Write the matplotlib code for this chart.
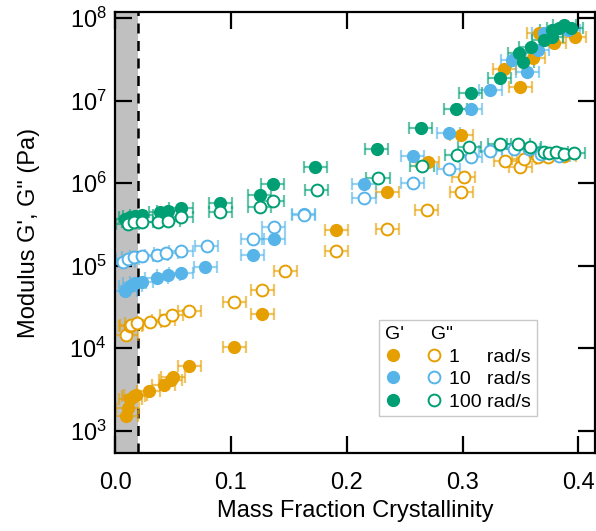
import matplotlib
matplotlib.use("Agg")
import matplotlib.pyplot as plt
from matplotlib.lines import Line2D

plt.rcParams['font.family'] = ['Liberation Sans', 'DejaVu Sans']
plt.rcParams['mathtext.fontset'] = 'custom'
plt.rcParams['mathtext.rm'] = 'Liberation Sans'

# G' and G'' at 1, 10, 100 rad/s vs mass fraction crystallinity
x_g1_s = [0.0096, 0.011, 0.013, 0.016, 0.018, 0.029, 0.042, 0.048, 0.050, 0.064,
          0.103, 0.127, 0.191, 0.235, 0.270, 0.299, 0.336, 0.350, 0.361, 0.366, 0.379, 0.397]
y_g1_s = [1.5e3, 1.9e3, 2.4e3, 2.6e3, 2.7e3, 3.0e3, 3.6e3, 4.1e3, 4.5e3, 6.1e3,
          1.03e4, 2.6e4, 2.7e5, 7.8e5, 1.8e6, 3.8e6, 2.4e7, 1.45e7, 3.3e7, 6.6e7, 5.0e7, 5.9e7]

x_g1_l = [0.0096, 0.013, 0.014, 0.019, 0.030, 0.042, 0.049, 0.064, 0.103, 0.127, 0.147,
          0.191, 0.235, 0.269, 0.299, 0.301, 0.337, 0.350, 0.353, 0.365, 0.374, 0.388]
y_g1_l = [1.44e4, 1.84e4, 1.9e4, 2.0e4, 2.06e4, 2.17e4, 2.5e4, 2.8e4, 3.6e4, 5.1e4, 8.5e4,
          1.5e5, 2.8e5, 4.7e5, 7.8e5, 1.18e6, 1.84e6, 1.56e6, 1.95e6, 2.06e6, 2.06e6, 2.1e6]

x_g10_s = [0.0087, 0.013, 0.017, 0.023, 0.036, 0.046, 0.057, 0.078, 0.119, 0.137, 0.163,
           0.215, 0.257, 0.288, 0.307, 0.324, 0.343, 0.356, 0.365, 0.370, 0.391]
y_g10_s = [4.9e4, 5.6e4, 6.1e4, 6.4e4, 7.0e4, 7.6e4, 8.2e4, 9.7e4, 1.36e5, 2.1e5, 4.2e5,
           9.7e5, 2.1e6, 4.0e6, 7.8e6, 1.36e7, 3.1e7, 2.2e7, 4.1e7, 6.6e7, 7.2e7]

x_g10_l = [0.007, 0.011, 0.016, 0.023, 0.036, 0.044, 0.057, 0.079, 0.119, 0.137, 0.163,
           0.215, 0.257, 0.288, 0.307, 0.324, 0.344, 0.357, 0.368, 0.383]
y_g10_l = [1.12e5, 1.21e5, 1.28e5, 1.32e5, 1.36e5, 1.44e5, 1.52e5, 1.74e5, 2.1e5, 2.9e5, 4.1e5,
           6.6e5, 1.0e6, 1.47e6, 2.06e6, 2.43e6, 2.57e6, 2.57e6, 2.23e6, 2.1e6]

x_g100_s = [0.0087, 0.013, 0.017, 0.023, 0.039, 0.046, 0.057, 0.091, 0.125, 0.136, 0.173,
            0.226, 0.264, 0.294, 0.307, 0.332, 0.349, 0.352, 0.359, 0.370, 0.377, 0.377,
            0.383, 0.388, 0.394]
y_g100_s = [3.7e5, 3.9e5, 4.0e5, 4.1e5, 4.5e5, 4.6e5, 5.0e5, 5.7e5, 7.2e5, 9.7e5, 1.56e6,
            2.6e6, 4.6e6, 7.8e6, 1.25e7, 1.9e7, 3.8e7, 2.9e7, 4.5e7, 5.4e7, 7.2e7, 5.9e7,
            7.6e7, 8.2e7, 7.6e7]

x_g100_l = [0.011, 0.016, 0.023, 0.037, 0.046, 0.057, 0.091, 0.125, 0.136, 0.174, 0.227,
            0.265, 0.295, 0.306, 0.332, 0.348, 0.358, 0.370, 0.375, 0.381, 0.388, 0.396]
y_g100_l = [3.2e5, 3.4e5, 3.4e5, 3.4e5, 3.5e5, 3.9e5, 4.5e5, 5.1e5, 6.1e5, 8.2e5, 1.15e6,
            1.6e6, 2.17e6, 2.7e6, 3.0e6, 2.95e6, 2.7e6, 2.36e6, 2.3e6, 2.36e6, 2.23e6, 2.3e6]

x_err = 0.01
x_cutoff = 0.02

orange = '#E69F00'
blue = '#56B4E9'
green = '#009E73'

fig = plt.figure(figsize=(5.96, 5.31), dpi=100)
ax = fig.add_axes([0.193, 0.147, 0.806, 0.830])

ax.axvspan(-0.01, x_cutoff, color='#c0c0c0', lw=0, zorder=0)
ax.axvline(x_cutoff, color='black', lw=1.8, ls=(0, (4, 3)), zorder=1)


def plot_series(x, y, color, filled):
    ax.errorbar(x, y, xerr=x_err, fmt='none', ecolor=color, alpha=0.6,
                elinewidth=1.6, capsize=4, capthick=1.6, zorder=2)
    if filled:
        ax.plot(x, y, 'o', color=color, ms=8.5, mec=color, ls='none', zorder=3)
    else:
        ax.plot(x, y, 'o', mfc='white', mec=color, mew=1.4, ms=8.5, ls='none', zorder=3)


plot_series(x_g1_s, y_g1_s, orange, True)
plot_series(x_g1_l, y_g1_l, orange, False)
plot_series(x_g10_s, y_g10_s, blue, True)
plot_series(x_g10_l, y_g10_l, blue, False)
plot_series(x_g100_s, y_g100_s, green, True)
plot_series(x_g100_l, y_g100_l, green, False)

ax.set_yscale('log')
ax.set_xlim(0.0, 0.4147)
ax.set_ylim(10 ** 2.73, 10 ** 8.07)
ax.set_xticks([0.0, 0.1, 0.2, 0.3, 0.4])
ax.set_xticklabels(['0.0', '0.1', '0.2', '0.3', '0.4'])
ax.set_yticks([1e3, 1e4, 1e5, 1e6, 1e7, 1e8])
ax.minorticks_off()
ax.tick_params(which='both', direction='in', top=True, right=True,
               length=12, width=1.6, labelsize=17)
ax.tick_params(axis='x', pad=14)
ax.tick_params(axis='y', pad=6)
for s in ax.spines.values():
    s.set_linewidth(1.6)

ax.set_xlabel('Mass Fraction Crystallinity', fontsize=17, labelpad=4)
ax.set_ylabel('Modulus G\', G" (Pa)', fontsize=17, labelpad=21)

# legend: filled column = G', open column = G''
h_s = [Line2D([], [], marker='o', ls='none', color=c, ms=8.5) for c in (orange, blue, green)]
h_l = [Line2D([], [], marker='o', ls='none', mfc='white', mec=c, mew=1.4, ms=8.5)
       for c in (orange, blue, green)]
labels = ['', '', '', '1     rad/s', '10   rad/s', '100 rad/s']
leg = ax.legend(h_s + h_l, labels, ncol=2, loc='lower left',
                bbox_to_anchor=(0.53, 0.061), fontsize=14,
                title='G\'     G"', title_fontsize=14, alignment='left',
                frameon=True, fancybox=False, edgecolor='#c8c8c8', framealpha=1,
                handlelength=0.8, handletextpad=0.4, columnspacing=0.9,
                labelspacing=0.25, borderpad=0.3)
leg.get_frame().set_linewidth(1.0)

fig.savefig('out.png', dpi=100)
